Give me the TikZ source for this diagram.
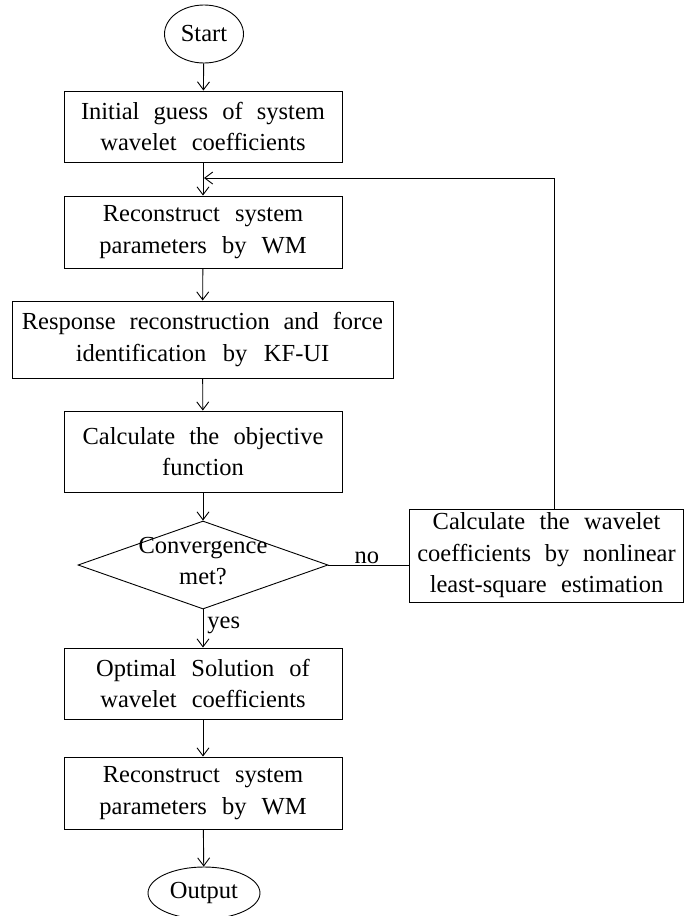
\documentclass[tikz,border=0pt]{standalone}
\usepackage{fontspec}
\setmainfont{Liberation Serif}
\usetikzlibrary{shapes.geometric,arrows.meta}

\newcommand{\chartfont}{\fontsize{24.5}{31.5}\selectfont\hyphenpenalty=10000\relax}

\tikzset{
  every picture/.style={x=1pt,y=-1pt,line width=0.9pt},
  txt/.style={font=\chartfont,execute at begin node={\spaceskip=0.55em plus 0.1em\relax}},
  proc/.style={txt,draw,rectangle,inner sep=0pt,align=center,
    minimum width=278pt,minimum height=71pt,text width=272pt},
  term/.style={txt,draw,ellipse,inner sep=0pt},
  dec/.style={draw,diamond,inner sep=0pt,minimum width=250pt,minimum height=88pt},
  flow/.style={-{Straight Barb[length=8pt,width=12pt]}}
}

\begin{document}
\begin{tikzpicture}
  \useasboundingbox (0,0) rectangle (683,916);

  \node[term,minimum width=79pt,minimum height=58pt] (start) at (204,34) {Start};
  \node[proc] (guess) at (203,126.5) {Initial guess of system\\wavelet coefficients};
  \node[proc,minimum height=72pt] (recon) at (203,232) {Reconstruct system\\parameters by WM};
  \node[proc,minimum width=381pt,text width=375pt,minimum height=77pt] (kfui) at (202.5,339.5)
    {Response reconstruction and force\\identification by KF-UI};
  \node[proc,minimum height=81pt] (obj) at (203,451.5) {Calculate the objective\\function};
  \node[dec] (conv) at (203,565) {};
  \node[txt,align=center] (convtxt) at (203,561) {Convergence\\met?};
  \node[proc,minimum width=274pt,minimum height=93pt,text width=270pt] (calc) at (546.5,555.5)
    {Calculate the wavelet\\coefficients by nonlinear\\least-square estimation};
  \node[proc] (opt) at (203,683.5) {Optimal Solution of\\wavelet coefficients};
  \node[proc,minimum height=72pt] (final) at (203,793) {Reconstruct system\\parameters by WM};
  \node[term,minimum width=112pt,minimum height=52pt] (out) at (204,893) {Output};

  \coordinate (loopup) at (554,178);
  \coordinate (loopin) at (204,178);

  \draw[flow] (start) -- (guess);
  \draw[flow] (guess) -- (recon);
  \draw[flow] (recon) -- (kfui);
  \draw[flow] (kfui) -- (obj);
  \draw[flow] (obj) -- (conv);
  \draw[flow] (conv) -- node[txt,right,pos=0.42,inner sep=4pt] (yes) {yes} (opt);
  \draw[flow] (opt) -- (final);
  \draw[flow] (final) -- (out);
  \draw (conv.east) -- node[txt,above,inner sep=1pt,xshift=-2pt] (no) {no} (conv.east -| calc.west);
  \draw[flow] (loopup |- calc.north) -- (loopup) -- (loopin);
\end{tikzpicture}
\end{document}
